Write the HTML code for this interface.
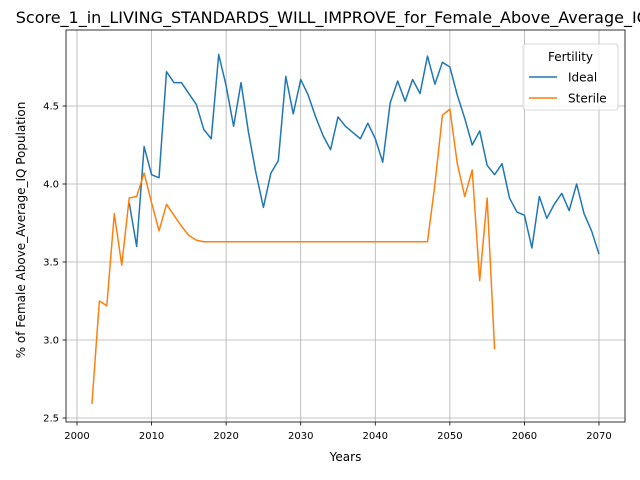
<!DOCTYPE html>
<html><head><meta charset="utf-8"><style>body{margin:0;background:#fff}svg{display:block;font-family:"DejaVu Sans","Liberation Sans",sans-serif}</style></head>
<body>
<svg id="chart" width="640" height="480" viewBox="0 0 640 480"></svg>
<script>
const xTicks = [2000, 2010, 2020, 2030, 2040, 2050, 2060, 2070];
const yTicks = [2.5, 3.0, 3.5, 4.0, 4.5];
const idealYears = [2007,2008,2009,2010,2011,2012,2013,2014,2015,2016,2017,2018,2019,2020,2021,2022,2023,2024,2025,2026,2027,2028,2029,2030,2031,2032,2033,2034,2035,2036,2037,2038,2039,2040,2041,2042,2043,2044,2045,2046,2047,2048,2049,2050,2051,2052,2053,2054,2055,2056,2057,2058,2059,2060,2061,2062,2063,2064,2065,2066,2067,2068,2069,2070];
const idealValues = [3.88,3.6,4.24,4.06,4.04,4.72,4.65,4.65,4.58,4.51,4.35,4.29,4.83,4.63,4.37,4.65,4.33,4.07,3.85,4.07,4.15,4.69,4.45,4.67,4.57,4.43,4.31,4.22,4.43,4.37,4.33,4.29,4.39,4.29,4.14,4.52,4.66,4.53,4.67,4.58,4.82,4.64,4.78,4.75,4.57,4.42,4.25,4.34,4.12,4.06,4.13,3.91,3.82,3.80,3.59,3.92,3.78,3.87,3.94,3.83,4.00,3.81,3.70,3.55];
const sterileYears = [2002,2003,2004,2005,2006,2007,2008,2009,2010,2011,2012,2013,2014,2015,2016,2017,2047,2048,2049,2050,2051,2052,2053,2054,2055,2056];
const sterileValues = [2.59,3.25,3.22,3.81,3.48,3.91,3.92,4.07,3.88,3.70,3.87,3.80,3.73,3.67,3.64,3.63,3.63,4.0,4.44,4.48,4.13,3.92,4.09,3.38,3.91,2.94];

const L=66,R=625,T=30,B=422;
const X = v => 77 + (v-2000)*522/70;
const Y = v => 418 - (v-2.5)*156;
const svg = document.getElementById('chart');
const NS='http://www.w3.org/2000/svg';
function mk(tag, attrs, parent){const e=document.createElementNS(NS,tag);for(const k in attrs)e.setAttribute(k,attrs[k]);(parent||svg).appendChild(e);return e;}

const grid = mk('g',{});


xTicks.forEach(t=>{
  const l=mk('line',{x1:X(t),x2:X(t),y1:T,y2:B,stroke:'#b0b0b0','stroke-width':0.8},grid);
  
  
  const tk=mk('line',{x1:X(t),x2:X(t),y1:B,y2:B+3.5,stroke:'#000','stroke-width':0.8});
  
  
  const tx=mk('text',{x:X(t),y:B+17,'text-anchor':'middle','font-size':10,fill:'#000'});
  tx.textContent=t;
  
  
});
yTicks.forEach(t=>{
  const l=mk('line',{x1:L,x2:R,y1:Y(t),y2:Y(t),stroke:'#b0b0b0','stroke-width':0.8},grid);
  
  
  const tk=mk('line',{x1:L-3.5,x2:L,y1:Y(t),y2:Y(t),stroke:'#000','stroke-width':0.8});
  
  
  const tx=mk('text',{x:L-7,y:Y(t)+3.5,'text-anchor':'end','font-size':10,fill:'#000'});
  tx.textContent=t.toFixed(1);
  
  
});
function line(xs,vs,color,name){
  const p=mk('polyline',{points:xs.map((x,i)=>X(x)+','+Y(vs[i])).join(' '),fill:'none',stroke:color,'stroke-width':1.5,'stroke-linejoin':'round'});
  
  
}
line(idealYears,idealValues,'#1f77b4','ideal-line');
line(sterileYears,sterileValues,'#ff7f0e','sterile-line');

const frame=mk('rect',{x:L,y:T,width:R-L,height:B-T,fill:'none',stroke:'#000','stroke-width':0.8});



const title=mk('text',{x:332.5,y:23,'text-anchor':'middle','font-size':16,fill:'#000'});
title.textContent='Score_1_in_LIVING_STANDARDS_WILL_IMPROVE_for_Female_Above_Average_IQ';


const xt=mk('text',{x:345.5,y:461,'text-anchor':'middle','font-size':12,fill:'#000'});
xt.textContent='Years';


const yt=mk('text',{x:0,y:0,'text-anchor':'middle','font-size':12,fill:'#000',transform:'translate(25,230) rotate(-90)'});
yt.textContent='% of Female Above_Average_IQ Population';



const lg=mk('g',{});


mk('rect',{x:523,y:44,width:95,height:66,rx:3,fill:'#fff','fill-opacity':0.8,stroke:'#ccc','stroke-width':0.8},lg);
const lt=mk('text',{x:570.5,y:61,'text-anchor':'middle','font-size':12,fill:'#000'},lg);
lt.textContent='Fertility';


[['Ideal','#1f77b4',77],['Sterile','#ff7f0e',98]].forEach(([n,c,y])=>{
  const s=mk('line',{x1:529,x2:557,y1:y,y2:y,stroke:c,'stroke-width':1.5},lg);
  
  
  const t=mk('text',{x:568,y:y+4.5,'font-size':12,fill:'#000'},lg);
  t.textContent=n;
  
  
});
</script>
</body></html>
